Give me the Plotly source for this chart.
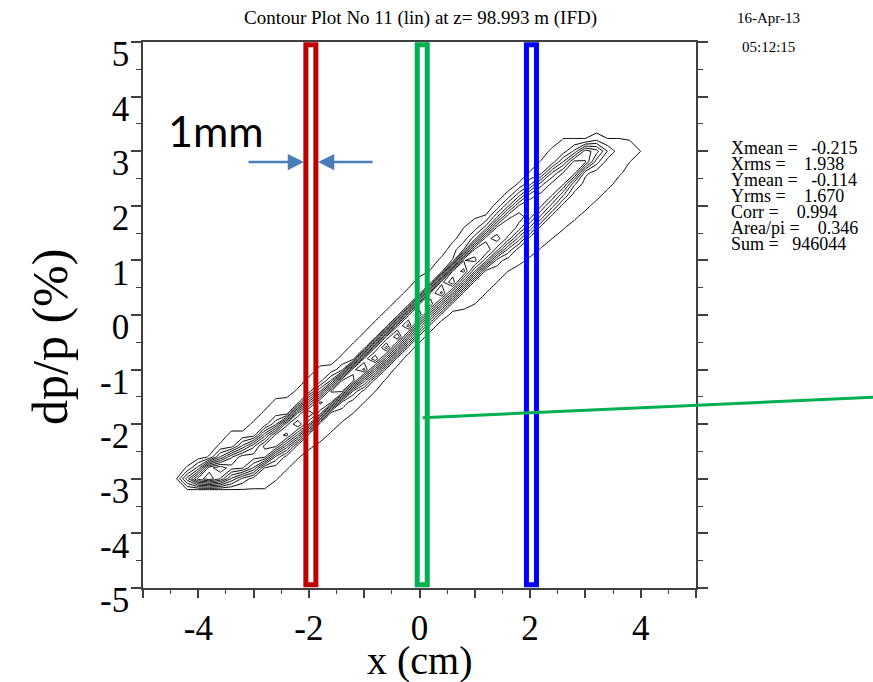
import numpy as np
import plotly.graph_objects as go

# ---------------- data ----------------
# grid columns (x, cm) of the density map
col_x = [-4.4, -4.2, -4.0, -3.8, -3.6, -3.4, -3.2, -3.0, -2.8, -2.6, -2.4, -2.2, -2.0,
         -1.8, -1.6, -1.4, -1.2, -1.0, -0.8, -0.6, -0.4, -0.2, 0.0, 0.2, 0.4, 0.6,
         0.8, 1.0, 1.2, 1.4, 1.6, 1.8, 2.0, 2.2, 2.4, 2.6, 2.8, 3.0, 3.2, 3.4, 3.6,
         3.8, 4.0]
# outermost contour: upper and lower dp/p edge per column (%)
edge_hi = [-2.98, -2.78, -2.78, -2.58, -2.36, -2.14, -2.14, -1.96, -1.76, -1.55, -1.52,
           -1.36, -1.15, -0.95, -0.92, -0.74, -0.53, -0.33, -0.12, 0.08, 0.28, 0.48,
           0.70, 0.82, 1.05, 1.35, 1.60, 1.78, 1.82, 2.05, 2.25, 2.42, 2.62, 2.82,
           3.05, 3.22, 3.22, 3.22, 3.22, 3.22, 3.22, 3.20, 3.00]
edge_lo = [-2.98, -3.19, -3.19, -3.19, -3.19, -3.19, -3.19, -3.19, -3.19, -3.02, -2.82,
           -2.62, -2.45, -2.34, -2.16, -1.97, -1.80, -1.60, -1.40, -1.18, -0.95, -0.72,
           -0.50, -0.30, -0.10, 0.05, 0.11, 0.20, 0.40, 0.60, 0.80, 0.93, 1.05, 1.22,
           1.40, 1.58, 1.75, 1.92, 2.10, 2.30, 2.55, 2.80, 3.00]
# dense core: centre, half width and peak level per column
core_c = [-2.98, -3.00, -2.98, -2.92, -2.85, -2.76, -2.68, -2.58, -2.45, -2.30, -2.15,
          -1.98, -1.82, -1.65, -1.47, -1.30, -1.12, -0.95, -0.77, -0.58, -0.38, -0.17,
          0.05, 0.25, 0.45, 0.65, 0.85, 1.05, 1.23, 1.42, 1.60, 1.78, 1.95, 2.13,
          2.32, 2.50, 2.70, 2.88, 2.98, 3.02, 3.05, 3.05, 3.00]
core_w = [0.10, 0.15, 0.22, 0.26, 0.30, 0.33, 0.35, 0.36, 0.36, 0.35, 0.34, 0.33, 0.32,
          0.32, 0.32, 0.32, 0.32, 0.32, 0.32, 0.33, 0.33, 0.33, 0.33, 0.34, 0.35, 0.36,
          0.38, 0.40, 0.42, 0.45, 0.48, 0.50, 0.50, 0.48, 0.45, 0.40, 0.35, 0.30, 0.25,
          0.15, 0.10, 0.10, 0.10]
core_p = [0, 3, 7, 9, 8.5, 7, 7.5, 7, 8, 8.5, 9, 9.5, 9.5, 9, 9, 9.5, 9.5, 10, 10.5,
          11, 10.5, 10, 9.5, 9.5, 10, 10.5, 10, 9, 8.5, 8, 7.5, 7, 6.5, 6, 6, 6, 6.5,
          6, 4, 1.5, 0, 0, 0]

x_ticks = [-5, -4, -3, -2, -1, 0, 1, 2, 3, 4, 5]
x_ticktext = ["", "-4", "", "-2", "", "0", "", "2", "", "4", ""]
y_ticks = [-5, -4, -3, -2, -1, 0, 1, 2, 3, 4, 5]
y_ticktext = ["-5", "-4", "-3", "-2", "-1", "0", "1", "2", "3", "4", "5"]
minor_ticks = [-4.5, -3.5, -2.5, -1.5, -0.5, 0.5, 1.5, 2.5, 3.5, 4.5]

stats = ["Xmean =\u00a0\u00a0 -0.215", "Xrms =\u00a0\u00a0\u00a0 1.938", "Ymean =\u00a0\u00a0 -0.114",
         "Yrms =\u00a0\u00a0\u00a0 1.670", "Corr =\u00a0\u00a0\u00a0 0.994",
         "Area/pi =\u00a0\u00a0\u00a0 0.346", "Sum =\u00a0\u00a0 946044"]
title_text = "Contour Plot No 11 (lin) at z= 98.993 m (IFD)"
date_text = "16-Apr-13"
time_text = "05:12:15"

# slit rectangles (x range in cm)
slits = [("#c00000", -2.055, -1.874), ("#00b050", -0.041, 0.140), ("#0000ff", 1.934, 2.115)]

# ---------------- build the density table ----------------
gx = np.array([-4.6] + col_x + [4.2])
gy = np.round(np.arange(-3.6, 3.61, 0.2), 2)
Z = np.zeros((len(gy), len(gx)))
for i, xv in enumerate(col_x):
    j = i + 1
    for k, yv in enumerate(gy):
        halo = min(edge_hi[i] - yv, yv - edge_lo[i]) / 0.2 + 0.5
        halo = max(0.0, min(1.0, halo))
        core = core_p[i] * max(0.0, 1 - ((yv - core_c[i]) / core_w[i]) ** 2) if halo > 0 else 0.0
        Z[k, j] = halo + core

# ---------------- figure ----------------
W, H = 873, 682
L, R, T, B = 143, 696, 42, 588


def pxx(xp):
    return (xp - L) / (R - L)


def pyy(yp):
    return (B - yp) / (B - T)


SERIF = "Liberation Serif, Times New Roman, serif"
AX = "#404040"

fig = go.Figure()
fig.add_trace(go.Contour(
    x=gx, y=gy, z=Z,
    contours=dict(start=0.5, end=11.5, size=1, coloring="lines"),
    line=dict(width=1, smoothing=0),
    colorscale=[[0, "black"], [1, "black"]],
    showscale=False, hoverinfo="skip",
))

shapes = []
for col, x0, x1 in slits:
    shapes.append(dict(type="rect", xref="x", yref="y", x0=x0, x1=x1, y0=-4.94, y1=4.95,
                       line=dict(color=col, width=5), fillcolor="rgba(0,0,0,0)", layer="above"))
shapes.append(dict(type="line", xref="paper", yref="paper",
                   x0=pxx(422.7), y0=pyy(417.7), x1=pxx(875), y1=pyy(397.2),
                   line=dict(color="#00b050", width=3)))

ann = []
ann.append(dict(x=pxx(420), y=pyy(18), xref="paper", yref="paper", text=title_text,
                showarrow=False, font=dict(family=SERIF, size=19, color="black"),
                xanchor="center", yanchor="middle"))
ann.append(dict(x=pxx(735), y=pyy(18), xref="paper", yref="paper", text=date_text,
                showarrow=False, font=dict(family=SERIF, size=15, color="black"),
                xanchor="left", yanchor="middle"))
ann.append(dict(x=pxx(740), y=pyy(47), xref="paper", yref="paper", text=time_text,
                showarrow=False, font=dict(family=SERIF, size=15, color="black"),
                xanchor="left", yanchor="middle"))
stat_y = [148, 164, 180, 196, 212, 228, 244]
for s, yp in zip(stats, stat_y):
    ann.append(dict(x=pxx(729), y=pyy(yp), xref="paper", yref="paper", text=s,
                    showarrow=False, font=dict(family=SERIF, size=18, color="black"),
                    xanchor="left", yanchor="middle"))
ann.append(dict(x=pxx(50), y=pyy(337), xref="paper", yref="paper", text="dp/p (%)",
                showarrow=False, textangle=-90, font=dict(family=SERIF, size=50, color="black"),
                xanchor="center", yanchor="middle"))
ann.append(dict(x=pxx(420), y=pyy(660), xref="paper", yref="paper", text="x (cm)",
                showarrow=False, font=dict(family=SERIF, size=40, color="black"),
                xanchor="center", yanchor="middle"))
ann.append(dict(x=pxx(166), y=pyy(130), xref="paper", yref="paper", text="1mm",
                showarrow=False, font=dict(family="Lato, Open Sans, sans-serif", size=43, color="black"),
                xanchor="left", yanchor="middle"))
ann.append(dict(x=pxx(304), y=pyy(162), xref="paper", yref="paper", text="",
                showarrow=True, ax=-57, ay=0, arrowhead=2, arrowsize=1.3, arrowwidth=2.5,
                arrowcolor="#4a7ebb", standoff=0))
ann.append(dict(x=pxx(318), y=pyy(162), xref="paper", yref="paper", text="",
                showarrow=True, ax=56, ay=0, arrowhead=2, arrowsize=1.3, arrowwidth=2.5,
                arrowcolor="#4a7ebb", standoff=0))

fig.update_layout(
    width=W, height=H,
    margin=dict(l=L, r=W - R, t=T, b=H - B, pad=0),
    paper_bgcolor="white", plot_bgcolor="white",
    showlegend=False,
    shapes=shapes, annotations=ann,
    xaxis=dict(range=[-5, 5], tickmode="array", tickvals=x_ticks, ticktext=x_ticktext,
               ticks="outside", ticklen=8, tickwidth=1.5, tickcolor=AX,
               showline=True, linecolor=AX, linewidth=1.5, mirror=True,
               showgrid=False, zeroline=False,
               tickfont=dict(family=SERIF, size=35, color="black"),
               minor=dict(tickmode="array", tickvals=minor_ticks, ticks="outside",
                          ticklen=4, tickwidth=1, tickcolor=AX, showgrid=False)),
    yaxis=dict(range=[-5, 5], tickmode="array", tickvals=y_ticks, ticktext=y_ticktext,
               ticks="outside", ticklen=10, tickwidth=1.5, tickcolor=AX,
               showline=True, linecolor=AX, linewidth=1.5, mirror="ticks",
               showgrid=False, zeroline=False, ticklabelshift=12, ticklabelstandoff=-5,
               tickfont=dict(family=SERIF, size=35, color="black"),
               minor=dict(tickmode="array", tickvals=minor_ticks, ticks="outside",
                          ticklen=5, tickwidth=1, tickcolor=AX, showgrid=False)),
)

fig.write_html("out.html")
